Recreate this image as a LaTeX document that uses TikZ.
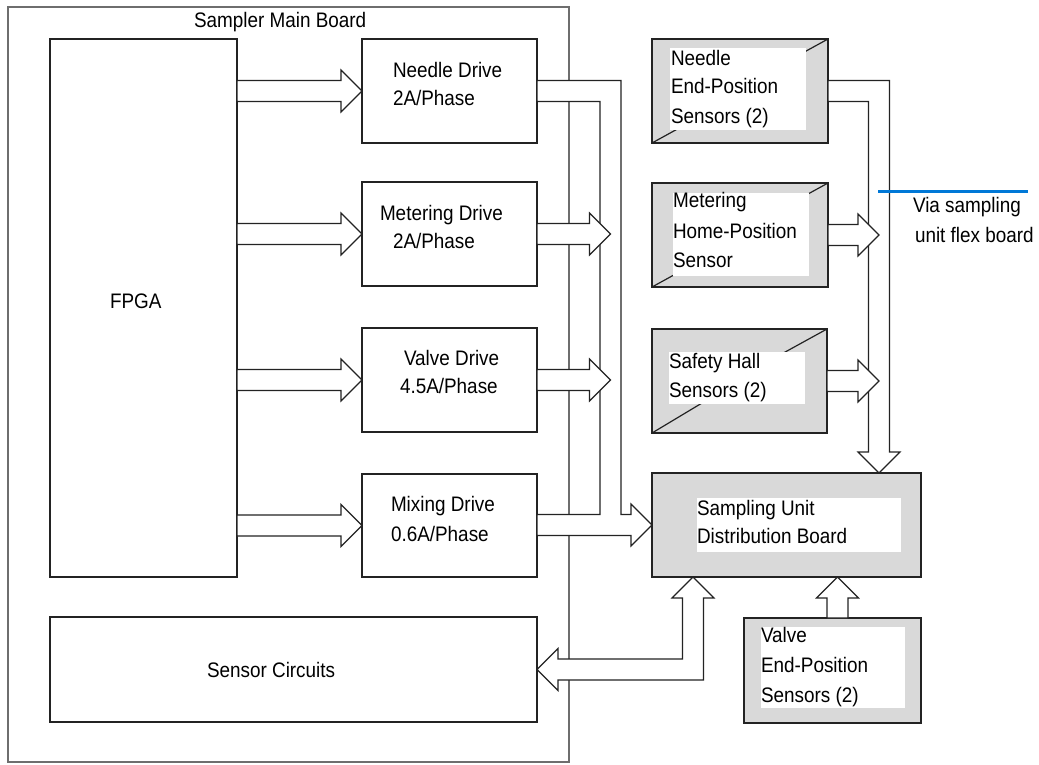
\documentclass[tikz,border=0pt]{standalone}
\usepackage{fontspec}
\setmainfont[FakeStretch=0.9]{Liberation Sans}
\usetikzlibrary{calc}
\definecolor{boxgray}{RGB}{217,217,217}
\definecolor{viablue}{RGB}{0,120,215}
\definecolor{edgecol}{RGB}{35,35,35}
\definecolor{boardcol}{RGB}{110,110,110}
\tikzset{
  box/.style={draw=edgecol, line width=1.2pt, inner sep=0pt, outer sep=0pt, anchor=north west, fill=white},
  graybox/.style={box, fill=boxgray},
  textbg/.style={fill=white, inner sep=0pt, outer sep=0pt, anchor=north west},
  lbl/.style={anchor=base west, inner sep=0pt, outer sep=0pt, font=\fontsize{21}{25}\selectfont},
  hollow/.style={draw=edgecol, fill=white, line width=1.2pt, line join=miter},
  bevelline/.style={draw=edgecol, line width=1.2pt},
  vialine/.style={draw=viablue, line width=3pt}
}
% horizontal hollow arrow: from x of #1 to tip #2 (y of #2)
\newcommand\ArrR[2]{\draw[hollow] let \p1=(#1), \p2=(#2) in
  (\x1,\y2+10.5pt) -- (\x2-21pt,\y2+10.5pt) -- (\x2-21pt,\y2+21pt) -- (\x2,\y2)
  -- (\x2-21pt,\y2-21pt) -- (\x2-21pt,\y2-10.5pt) -- (\x1,\y2-10.5pt) -- cycle;}
% vertical hollow arrow upwards: from y of #1 to tip #2 (x of #2)
\newcommand\ArrU[2]{\draw[hollow] let \p1=(#1), \p2=(#2) in
  (\x2-10.5pt,\y1) -- (\x2-10.5pt,\y2-21pt) -- (\x2-21pt,\y2-21pt) -- (\x2,\y2)
  -- (\x2+21pt,\y2-21pt) -- (\x2+10.5pt,\y2-21pt) -- (\x2+10.5pt,\y1) -- cycle;}
\begin{document}
\begin{tikzpicture}[x=1pt,y=-1pt]
\useasboundingbox (0,0) rectangle (1039,764);
\fill[white] (0,0) rectangle (1039,764);

% main board
\node[box, draw=boardcol, fill=none, minimum width=561pt, minimum height=755pt] (main) at (8,7) {};
\node[lbl] (title) at (194,27) {Sampler Main Board};

% blocks on the main board
\node[box, minimum width=187pt, minimum height=538pt] (fpga) at (50,39) {};
\node[box, minimum width=175pt, minimum height=104pt] (needle) at (362,39) {};
\node[box, minimum width=175pt, minimum height=104pt] (metering) at (362,182) {};
\node[box, minimum width=175pt, minimum height=104pt] (valve) at (362,328) {};
\node[box, minimum width=175pt, minimum height=103pt] (mixing) at (362,474) {};
\node[box, minimum width=487pt, minimum height=105pt] (sensor) at (50,617) {};

% sensor boxes
\node[graybox, minimum width=176pt, minimum height=104pt] (nsens) at (652,39) {};
\draw[bevelline] (nsens.north east) -- ++(-60,33);
\draw[bevelline] (nsens.south west) -- ++(60,-33);
\node[textbg, minimum width=136pt, minimum height=82pt] (nsensbg) at (670,48) {};

\node[graybox, minimum width=176pt, minimum height=104pt] (msens) at (652,183) {};
\draw[bevelline] (msens.north east) -- ++(-60,33);
\draw[bevelline] (msens.south west) -- ++(60,-33);
\node[textbg, minimum width=136pt, minimum height=83pt] (msensbg) at (673,193) {};

\node[graybox, minimum width=175pt, minimum height=104pt] (ssens) at (652,329) {};
\draw[bevelline] (ssens.north east) -- ++(-60,33);
\draw[bevelline] (ssens.south west) -- ++(60,-36);
\node[textbg, minimum width=136pt, minimum height=52pt] (ssensbg) at (669,352) {};

\node[graybox, minimum width=269pt, minimum height=104pt] (sud) at (652,473) {};
\node[textbg, minimum width=204pt, minimum height=54pt] (sudbg) at (697,498) {};

\node[graybox, minimum width=177pt, minimum height=105pt] (vsens) at (744,618) {};
\node[textbg, minimum width=144pt, minimum height=81pt] (vsensbg) at (761,627) {};

% bus coordinates
\coordinate (dbus) at ($(needle.east)+(73.5,0)$);
\coordinate (sbus) at ($(nsens.east)+(51,0)$);

% FPGA -> drives
\ArrR{fpga.east}{needle.west}
\ArrR{fpga.east}{metering.west}
\ArrR{fpga.east}{valve.west}
\ArrR{fpga.east}{mixing.west}

% needle drive bus merged with mixing drive output into distribution board
\draw[hollow] let \p1=(needle.east), \p2=(mixing.east), \p3=(sud.west) in
  (\x1,\y1+10.5pt) -- (\x1+84pt,\y1+10.5pt) -- (\x1+84pt,\y3+10.5pt)
  -- (\x3-21pt,\y3+10.5pt) -- (\x3-21pt,\y3+21pt) -- (\x3,\y3)
  -- (\x3-21pt,\y3-21pt) -- (\x3-21pt,\y3-10.5pt) -- (\x2,\y3-10.5pt)
  -- (\x2,\y3+10.5pt) -- (\x1+63pt,\y3+10.5pt) -- (\x1+63pt,\y1-10.5pt)
  -- (\x1,\y1-10.5pt) -- cycle;
\ArrR{metering.east}{dbus |- metering.east}
\ArrR{valve.east}{dbus |- valve.east}

% distribution board <-> sensor circuits
\draw[hollow] let \p1=(sud.south west), \p2=(sensor.east) in
  (\x1+41pt,\y1) -- (\x1+62pt,\y1-21pt) -- (\x1+51.5pt,\y1-21pt)
  -- (\x1+51.5pt,\y2-10.5pt) -- (\x2+21pt,\y2-10.5pt) -- (\x2+21pt,\y2-21pt)
  -- (\x2,\y2) -- (\x2+21pt,\y2+21pt) -- (\x2+21pt,\y2+10.5pt)
  -- (\x1+30.5pt,\y2+10.5pt) -- (\x1+30.5pt,\y1-21pt) -- (\x1+20pt,\y1-21pt) -- cycle;

% needle sensors bus down into distribution board
\draw[hollow] let \p1=(nsens.east), \p2=(sbus), \p3=(sud.north) in
  (\x1,\y1+10.5pt) -- (\x2+10.5pt,\y1+10.5pt) -- (\x2+10.5pt,\y3+21pt)
  -- (\x2+21pt,\y3+21pt) -- (\x2,\y3) -- (\x2-21pt,\y3+21pt)
  -- (\x2-10.5pt,\y3+21pt) -- (\x2-10.5pt,\y1-10.5pt) -- (\x1,\y1-10.5pt) -- cycle;
\ArrR{msens.east}{sbus |- msens.east}
\ArrR{ssens.east}{sbus |- ssens.east}

% valve sensors up into distribution board
\ArrU{vsens.north}{[xshift=51pt]sud.south}

% flex board marker
\coordinate (via1) at (878,191);
\coordinate (via2) at (1028,191);
\draw[vialine] (via1) -- (via2);
\node[lbl] (via3) at (913,212) {Via sampling};
\node[lbl] (via4) at (915,242) {unit flex board};

% labels
\node[lbl] (tfpga) at (110,308) {FPGA};
\node[lbl] (tn1) at (393,77) {Needle Drive};
\node[lbl] (tn2) at (393,105) {2A/Phase};
\node[lbl] (tm1) at (380,220) {Metering Drive};
\node[lbl] (tm2) at (393,248) {2A/Phase};
\node[lbl] (tv1) at (404,365) {Valve Drive};
\node[lbl] (tv2) at (400,393) {4.5A/Phase};
\node[lbl] (tx1) at (391,511) {Mixing Drive};
\node[lbl] (tx2) at (391,541) {0.6A/Phase};
\node[lbl] (tsc) at (207,677) {Sensor Circuits};

\node[lbl] (ns1) at (671,65) {Needle};
\node[lbl] (ns2) at (671,93) {End-Position};
\node[lbl] (ns3) at (671,123) {Sensors (2)};
\node[lbl] (ms1) at (673,207) {Metering};
\node[lbl] (ms2) at (673,238) {Home-Position};
\node[lbl] (ms3) at (673,267) {Sensor};
\node[lbl] (ss1) at (669,368) {Safety Hall};
\node[lbl] (ss2) at (669,397) {Sensors (2)};
\node[lbl] (sd1) at (697,515) {Sampling Unit};
\node[lbl] (sd2) at (697,543) {Distribution Board};
\node[lbl] (vs1) at (761,642) {Valve};
\node[lbl] (vs2) at (761,672) {End-Position};
\node[lbl] (vs3) at (761,702) {Sensors (2)};
\end{tikzpicture}
\end{document}
